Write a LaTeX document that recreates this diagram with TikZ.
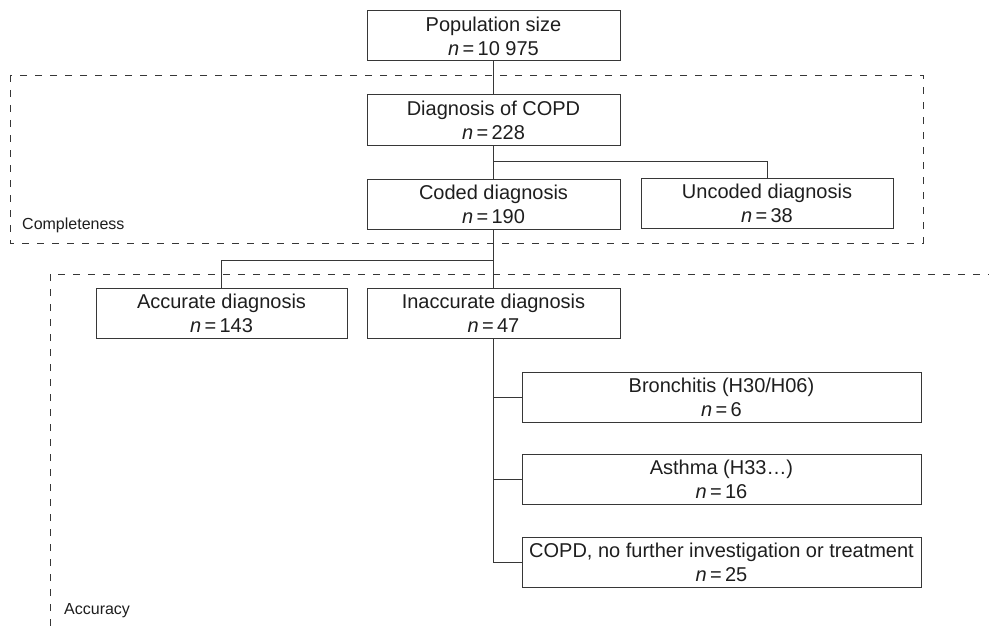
\documentclass[tikz,border=0pt]{standalone}
\usepackage{fontspec}
\setmainfont{Liberation Sans}
\definecolor{linec}{RGB}{55,55,55}
\definecolor{textc}{RGB}{30,30,30}
\begin{document}
\begin{tikzpicture}[x=1pt,y=-1pt,
  box/.style={draw=linec, line width=1pt, rectangle, minimum height=50pt, inner sep=0pt,
    align=center, text=textc, font=\fontsize{20}{24}\selectfont},
  wbox/.style={box, minimum width=253pt},
  lbox/.style={box, minimum width=399pt},
  conn/.style={draw=linec, line width=1pt},
  dashbox/.style={draw=linec, line width=0.9pt, dash pattern=on 7pt off 8pt},
  lab/.style={text=textc, font=\fontsize{16}{19}\selectfont, inner sep=0pt, anchor=base west}
]
\useasboundingbox (0,0) rectangle (989,626);

% dashed regions
\draw[dashbox] (10,75) rectangle (923,243);
\draw[dashbox] (50,626) -- (50,274) -- (989,274);
\node[lab] (compl) at (22,229) {Completeness};
\node[lab] (accur) at (64,614) {Accuracy};

% boxes
\node[wbox] (pop) at (493.5,36) {Population size\\\textit{n}\,=\,10 975};
\node[wbox] (diag) at (493.5,120) {Diagnosis of COPD\\\textit{n}\,=\,228};
\node[wbox] (coded) at (493.5,204) {Coded diagnosis\\\textit{n}\,=\,190};
\node[box, minimum width=252pt] (uncoded) at (767,203.5) {Uncoded diagnosis\\\textit{n}\,=\,38};
\node[box, minimum width=251pt] (acc) at (221.5,313.5) {Accurate diagnosis\\\textit{n}\,=\,143};
\node[wbox] (inacc) at (493.5,313.5) {Inaccurate diagnosis\\\textit{n}\,=\,47};
\node[lbox] (bron) at (721.5,397) {Bronchitis (H30/H06)\\\textit{n}\,=\,6};
\node[lbox] (asth) at (721.5,479.5) {Asthma (H33…)\\\textit{n}\,=\,16};
\node[lbox] (copd) at (721.5,562.5) {COPD, no further investigation or treatment\\\textit{n}\,=\,25};

% connectors
\draw[conn] (pop.south) -- (diag.north);
\draw[conn] (diag.south) -- (coded.north);
\draw[conn] (diag.south) ++(0,16) -| (uncoded.north);
\draw[conn] (coded.south) -- (inacc.north);
\draw[conn] (coded.south) ++(0,31) -| (acc.north);
\draw[conn] (inacc.south) |- (copd.west);
\draw[conn] (inacc.south |- bron.west) -- (bron.west);
\draw[conn] (inacc.south |- asth.west) -- (asth.west);
\end{tikzpicture}
\end{document}
